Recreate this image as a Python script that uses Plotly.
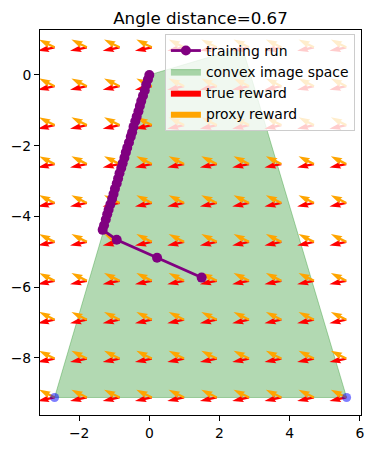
import numpy as np
import plotly.graph_objects as go

# ---- data ----
title_text = "Angle distance=0.67"

run_x = [0.00, -0.04, -0.09, -0.13, -0.18, -0.23, -0.27, -0.31, -0.36, -0.40, -0.45,
         -0.49, -0.53, -0.58, -0.63, -0.67, -0.71, -0.76, -0.80, -0.85, -0.89, -0.93,
         -0.98, -1.02, -1.06, -1.11, -1.16, -1.20, -1.24, -1.29, -1.33, -0.93, 0.22, 1.49]
run_y = [0.00, -0.13, -0.28, -0.44, -0.59, -0.74, -0.88, -1.03, -1.18, -1.31, -1.47,
         -1.62, -1.75, -1.91, -2.06, -2.19, -2.34, -2.50, -2.63, -2.78, -2.93, -3.07,
         -3.22, -3.37, -3.50, -3.66, -3.81, -3.94, -4.09, -4.25, -4.38, -4.66, -5.17, -5.73]

hull_x = [-2.70, 5.62, 2.65, 0.00]
hull_y = [-9.12, -9.12, 0.78, 0.00]

extreme_x = [-2.70, 5.62]
extreme_y = [-9.12, -9.12]

grid_x = [-2.70, -1.78, -0.85, 0.07, 0.99, 1.92, 2.84, 3.76, 4.69, 5.61]
grid_y = [-9.12, -8.02, -6.92, -5.82, -4.72, -3.62, -2.52, -1.42, -0.32, 0.78]

true_reward = [-0.48, -0.10]
proxy_reward = [-0.44, 0.22]

x_ticks = [-2, 0, 2, 4, 6]
y_ticks = [0, -2, -4, -6, -8]

# ---- styles ----
FONT = "DejaVu Sans"
SHAFT = 0.065
# the page body has an 8px margin, so the figure is drawn 8px in from the window
W, H = 366, 441


def arrows(vec):
    u, v = vec
    L = float(np.hypot(u, v))
    d = np.array([u, v]) / L
    n = np.array([-d[1], d[0]])
    w = SHAFT
    local = [(0, -w / 2), (L - 4.5 * w, -w / 2), (L - 5 * w, -1.5 * w), (L, 0),
             (L - 5 * w, 1.5 * w), (L - 4.5 * w, w / 2), (0, w / 2), (0, -w / 2)]
    xs, ys = [], []
    for gy in grid_y:
        for gx in grid_x:
            for s, t in local:
                p = np.array([gx, gy]) + s * d + t * n
                xs.append(float(p[0]))
                ys.append(float(p[1]))
            xs.append(None)
            ys.append(None)
    return xs, ys


fig = go.Figure()

fig.add_trace(go.Scatter(
    x=hull_x + hull_x[:1], y=hull_y + hull_y[:1], mode="lines", fill="toself",
    fillcolor="rgba(0,128,0,0.3)", line=dict(color="rgba(0,128,0,0.3)", width=1),
    name="convex image space", legendrank=2, hoverinfo="skip"))

rx, ry = arrows(true_reward)
fig.add_trace(go.Scatter(
    x=rx, y=ry, mode="lines", fill="toself", fillcolor="red",
    line=dict(width=0, color="red"), name="true reward", legendrank=3, hoverinfo="skip"))

ox, oy = arrows(proxy_reward)
fig.add_trace(go.Scatter(
    x=ox, y=oy, mode="lines", fill="toself", fillcolor="orange",
    line=dict(width=0, color="orange"), name="proxy reward", legendrank=4, hoverinfo="skip"))

fig.add_trace(go.Scatter(
    x=extreme_x, y=extreme_y, mode="markers",
    marker=dict(size=9, color="rgba(0,0,255,0.5)", line=dict(width=0)),
    showlegend=False, hoverinfo="skip", cliponaxis=False))

fig.add_trace(go.Scatter(
    x=run_x, y=run_y, mode="lines+markers",
    line=dict(color="purple", width=2.8),
    marker=dict(size=10, color="purple"),
    name="training run", legendrank=1))

axis_common = dict(
    showgrid=False, zeroline=False, showline=True, mirror=True, automargin=False,
    linecolor="black", linewidth=1, ticks="outside", ticklen=5,
    tickcolor="black", tickwidth=1, tickfont=dict(family=FONT, size=13.9, color="black"))

fig.update_xaxes(range=[-3.115, 6.03], tickvals=x_ticks,
                 ticktext=[str(v).replace("-", "\u2212") for v in x_ticks], **axis_common)
fig.update_yaxes(range=[-9.615, 1.27], tickvals=y_ticks,
                 ticktext=[str(v).replace("-", "\u2212") for v in y_ticks], **axis_common)

fig.update_layout(
    width=W, height=H,
    margin=dict(l=32, r=13, t=22, b=34, autoexpand=False),
    paper_bgcolor="white", plot_bgcolor="white",
    font=dict(family=FONT, size=13.9, color="black"),
    title=dict(text=title_text, x=0.5, xref="paper", xanchor="center",
               y=1 - 10 / H, yref="container", yanchor="middle",
               font=dict(family=FONT, size=16.7, color="black")),
    legend=dict(x=0.981, y=0.9896, xanchor="right", yanchor="top",
                bgcolor="rgba(255,255,255,0.8)", bordercolor="#cccccc", borderwidth=1,
                font=dict(family=FONT, size=13.9, color="black"),
                traceorder="normal"),
    showlegend=True,
)

fig.write_html("out.html")
